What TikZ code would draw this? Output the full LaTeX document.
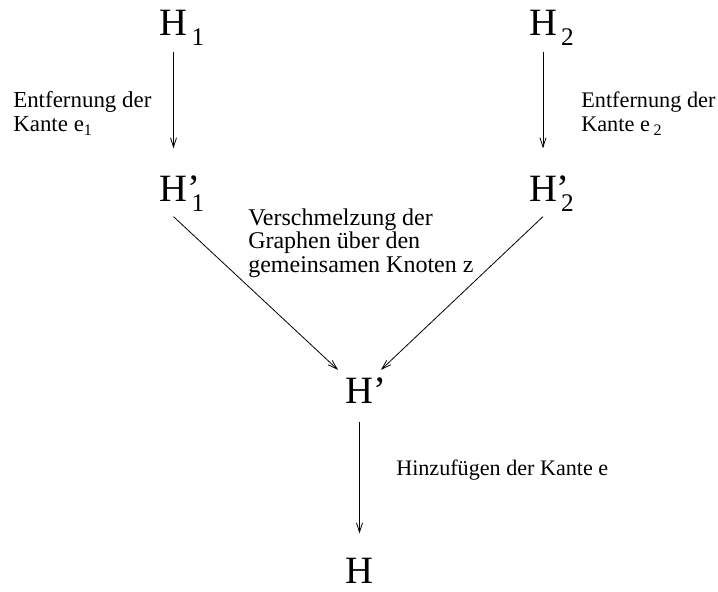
\documentclass[tikz,border=0pt]{standalone}
\usepackage{fontspec}
\setmainfont{Liberation Serif}
\usepackage{tikz}
\usetikzlibrary{arrows.meta}

\newcommand{\bigH}{\fontsize{29}{29}\selectfont}
\newcommand{\hsub}[1]{\rlap{\raisebox{-7.5pt}{\fontsize{19}{19}\selectfont\,#1}}}
\newcommand{\hsubp}[1]{\rlap{’}\hsub{#1}}
\newcommand{\esub}[1]{\raisebox{-2.5pt}{\fontsize{12}{12}\selectfont #1}}

\tikzset{
  graph/.style = {anchor = base, inner sep = 4pt, font = \bigH},
  note/.style = {anchor = base west, align = left, inner sep = 0pt,
                 font = \fontsize{17.2}{18}\selectfont},
  step arrow/.style = {-{Straight Barb[length = 7pt, width = 4.5pt]}, line width = 0.6pt}
}

\begin{document}
\begin{tikzpicture}[x = 0.75pt, y = -0.75pt]
						\useasboundingbox (0, 0) rectangle (718, 592);
						\node[graph] (h1) at (173.5, 36) {H\hsub{1}};
						\node[graph] (h2) at (543, 36) {H\hsub{2}};
						\node[graph] (h1p) at (173.5, 201) {H\hsubp{1}};
						\node[graph] (h2p) at (543, 201) {H\hsubp{2}};
						\node[graph] (hp) at (359.5, 403) {H\rlap{’}};
						\node[graph] (h) at (359.5, 583) {H};
						\draw[step arrow, shorten >= 16pt] (h1) -- (h1p);
						\draw[step arrow, shorten >= 16pt] (h2) -- (h2p);
						\draw[step arrow, shorten >= 2pt] (h1p.south) -- (hp.north west);
						\draw[step arrow, shorten >= 2pt] (h2p.south) -- (hp.north east);
						\draw[step arrow, shorten <= 10pt, shorten >= 14pt] (hp) -- (h);
						\node[note] (lab1) at (13, 132) {Entfernung der\\Kante e\esub{1}};
						\node[note, font = \fontsize{16.7}{18}\selectfont] (lab2) at (581, 132) {Entfernung der\\Kante e\,\esub{2}};
						\node[note, font = \fontsize{18}{17.6}\selectfont] (lab3) at (248, 272) {Verschmelzung der\\Graphen über den\\gemeinsamen Knoten z};
						\node[note, font = \fontsize{16.6}{18}\selectfont] (lab4) at (396, 475) {Hinzufügen der Kante e};
					\end{tikzpicture}
\end{document}
